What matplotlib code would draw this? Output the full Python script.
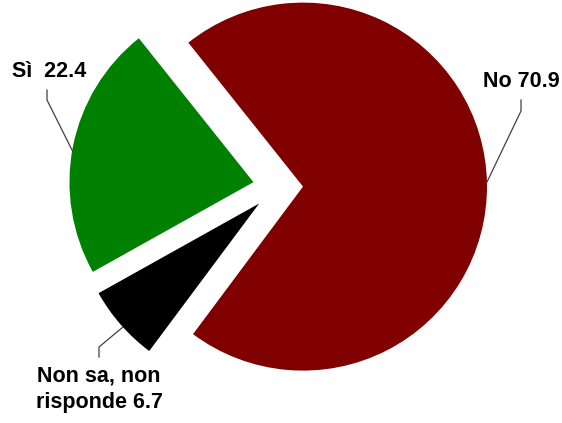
import matplotlib.pyplot as plt

plt.rcParams['font.family'] = ['Liberation Sans', 'DejaVu Sans']

labels = ['No 70.9', 'Sì  22.4', 'Non sa, non\nrisponde 6.7']
values = [70.9, 22.4, 6.7]
colors = ['#800000', '#008000', '#000000']

W, H = 562, 423


def py(y):
    # pixel row (from top) -> axis y
    return H - y


fig = plt.figure(figsize=(W / 100, H / 100), dpi=100)
ax = fig.add_axes([0, 0, 1, 1])

# explode is in data units here (pixels)
ax.pie(values, colors=colors, startangle=-126.7, counterclock=True,
       explode=[25] * 3, radius=184, center=(278, py(187)),
       frame=True)
ax.set_xlim(0, W)
ax.set_ylim(0, H)
ax.set_aspect('equal')
ax.axis('off')

# leader lines
line_kw = dict(color='#404040', lw=0.9)
ax.plot([487, 521, 521], [py(182), py(111), py(100)], **line_kw)
ax.plot([73, 47, 47], [py(152), py(100), py(90)], **line_kw)
ax.plot([123, 99, 99], [py(327), py(347), py(357)], **line_kw)

txt_kw = dict(fontsize=15.5, fontweight='bold', color='black')
ax.text(483, py(87), labels[0], ha='left', va='baseline', **txt_kw)
ax.text(12, py(77), labels[1], ha='left', va='baseline', **txt_kw)
ax.text(99, py(365), labels[2], ha='center', va='top', linespacing=1.4,
        **txt_kw)

fig.savefig('out.png', dpi=100)
